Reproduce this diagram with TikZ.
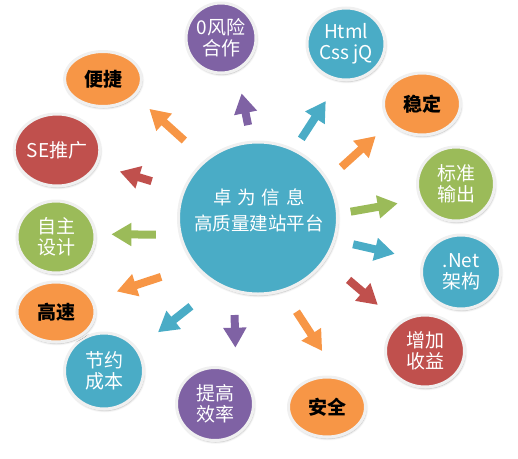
\documentclass[tikz,border=0pt]{standalone}
\usepackage{fontspec}
\usepackage{tikz}
\usetikzlibrary{arrows.meta, shapes.geometric, shadows.blur}
\newfontfamily\cjk{Noto Sans CJK SC}
\definecolor{bubblepurple}{HTML}{7F62A4}
\definecolor{bubbleblue}{HTML}{4AACC6}
\definecolor{bubbleorange}{HTML}{F79646}
\definecolor{bubblegreen}{HTML}{9BBB59}
\definecolor{bubblered}{HTML}{C0504D}
\definecolor{ringgray}{HTML}{F0F0F0}

\begin{document}
\begin{tikzpicture}[
    x=1pt, y=-1pt,
    bubble/.style={ellipse, draw=ringgray, line width=3pt, inner sep=0pt, align=center, text=white,
        font=\cjk\fontsize{19}{21}\selectfont,
        blur shadow={shadow xshift=0.8pt, shadow yshift=-1.5pt, shadow blur radius=2pt, shadow opacity=30}},
    dims/.style 2 args={minimum width=#1pt, minimum height=#2pt},
    dark/.style={text=black, font=\cjk\bfseries\fontsize{19}{21}\selectfont},
    arrow/.style={-{Triangle[length=20pt, width=22pt]}, line width=8pt},
]
    \useasboundingbox (0,0) rectangle (518,458);

    % Hub
    \node[bubble, dims={159}{152}, fill=bubbleblue] (hub) at (258,218) {};
    \node[align=center, text=white, font=\cjk\fontsize{18.5}{26}\selectfont] (slogan) at (259,210)
        {卓\hspace{6pt}为\hspace{6pt}信\hspace{6pt}息\\高质量建站平台};

    % Bubbles
    \node[bubble, dims={70}{70}, fill=bubblepurple] (risk) at (221,38) {0风险\\合作};
    \node[bubble, dims={78}{72}, fill=bubbleblue] (html) at (346,44) {Html\\Css jQ};
    \node[bubble, dark, dims={77}{62}, fill=bubbleorange] (stable) at (422,104) {稳定};
    \node[bubble, dims={77}{74}, fill=bubblegreen] (stdout) at (456,184) {标准\\输出};
    \node[bubble, dims={79}{74}, fill=bubbleblue] (dotnet) at (461,272) {.Net\\架构};
    \node[bubble, dims={79}{72}, fill=bubblered] (profit) at (425,351) {增加\\收益};
    \node[bubble, dark, dims={77}{60}, fill=bubbleorange] (safe) at (327,407) {安全};
    \node[bubble, dims={77}{73}, fill=bubblepurple] (effic) at (215,404) {提高\\效率};
    \node[bubble, dims={79}{76}, fill=bubbleblue] (cost) at (104,371) {节约\\成本};
    \node[bubble, dark, dims={78}{60}, fill=bubbleorange] (fast) at (56,312) {高速};
    \node[bubble, dims={78}{72}, fill=bubblegreen] (design) at (56,237) {自主\\设计};
    \node[bubble, dims={78}{72}, fill=bubblered] (seo) at (57,150) {SE推广};
    \node[bubble, dark, dims={77}{55}, fill=bubbleorange] (quick) at (103,79) {便捷};

    % Arrows
    \draw[arrow, bubblepurple, shorten <=16pt, shorten >=23pt] (hub.95) -- (risk.296);
    \draw[arrow, bubbleblue, shorten <=12pt, shorten >=24pt] (hub.62) -- (html.259);
    \draw[arrow, bubbleorange, shorten <=18pt, shorten >=19pt] (hub.29) -- (stable.211);
    \draw[arrow, bubblegreen, shorten <=12pt, shorten >=22pt] (hub.3) -- (stdout.203);
    \draw[arrow, bubbleblue, shorten <=18pt, shorten >=28pt] (hub.344) -- (dotnet.163);
    \draw[arrow, bubblered, shorten <=30pt, shorten >=27pt] (hub.328) -- (profit.133);
    \draw[arrow, bubbleorange, shorten <=24pt, shorten >=31pt] (hub.289) -- (safe.68);
    \draw[arrow, bubblepurple, shorten <=23pt, shorten >=24pt] (hub.252) -- (effic.57);
    \draw[arrow, bubbleblue, shorten <=34pt, shorten >=26pt] (hub.239) -- (cost.34);
    \draw[arrow, bubbleorange, shorten <=35pt, shorten >=25pt] (hub.217) -- (fast.19);
    \draw[arrow, bubblegreen, shorten <=23pt, shorten >=15pt] (hub.192) -- (design.4);
    \draw[arrow, bubblered, shorten <=32pt, shorten >=23pt] (hub.160) -- (seo.340);
    \draw[arrow, bubbleorange, shorten <=28pt, shorten >=19pt] (hub.132) -- (quick.332);

\end{tikzpicture}
\end{document}
